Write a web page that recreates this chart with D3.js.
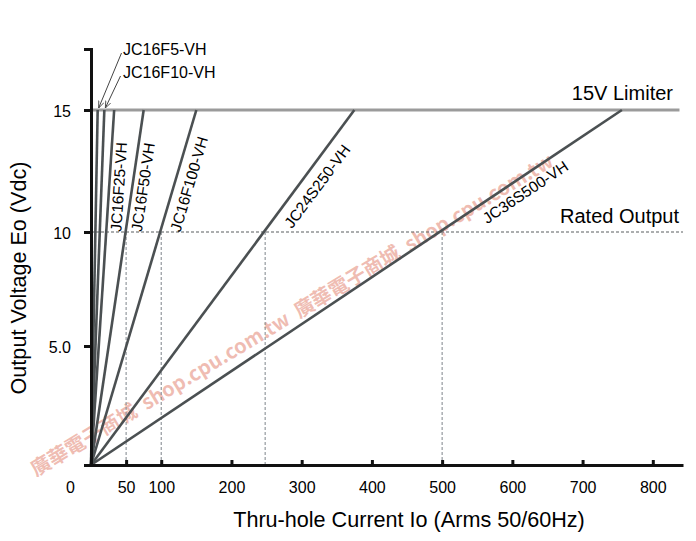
<!DOCTYPE html>
<html>
<head>
<meta charset="utf-8">
<script src="https://cdn.jsdelivr.net/npm/d3@7"></script>
<style>
  body { margin: 0; background: #fff; }
  svg { font-family: "Liberation Sans", Arial, sans-serif; }
</style>
</head>
<body>
<div id="chart"></div>
<script>
// model names, rated current at 10V, current where each curve meets the 15V limiter
const models = ["JC16F5-VH", "JC16F10-VH", "JC16F25-VH", "JC16F50-VH", "JC16F100-VH", "JC24S250-VH", "JC36S500-VH"];
const ratedCurrent = [5, 10, 25, 50, 100, 250, 500];
const currentAt15V = [9.5, 19, 33, 75, 150, 375, 756];
const dropCurrents = [50, 100, 248, 500];
const xTicks = [50, 100, 200, 300, 400, 500, 600, 700, 800];
const yTicks = [5, 10, 15];
const yTickLabels = ["5.0", "10", "15"];
const limiterV = 15;
const ratedV = 10;
const watermark = "廣華電子商城  shop.cpu.com.tw  廣華電子商城  shop.cpu.com.tw";

// label offsets along / across each curve (layout only)
const labelOffsets = [null, null, [1, 15], [2, 16], [5, 19.5], [19, 21], [44, 20]];

const width = 696, height = 541;

const svg = d3.select("#chart")
    .append("svg")
    .attr("width", width)
    .attr("height", height);

const x = d3.scaleLinear()
    .domain([0, 843])
    .range([91, 683]);

const y = d3.scaleLinear()
    .domain([0, 5, 10, 15, 17.5])
    .range([465, 346, 232, 110, 49]);

// watermark behind everything
svg.append("text")
    .attr("transform", "translate(36,477) rotate(-31)")
    .attr("font-family", "'Noto Sans CJK TC', 'Liberation Sans', sans-serif")
    .attr("font-weight", "bold")
    .style("font-size", "20px")
    .attr("fill", "#e07a66")
    .attr("fill-opacity", 0.5)
    .style("white-space", "pre")
    .text(watermark);

// rated output dashed line
svg.append("line")
    .attr("x1", x(0)).attr("x2", x(843))
    .attr("y1", y(ratedV)).attr("y2", y(ratedV))
    .attr("stroke", "#5a5e60")
    .attr("stroke-width", 1.2)
    .attr("stroke-dasharray", "3,2");

// vertical drop lines
svg.selectAll(".drop")
    .data(dropCurrents)
    .enter()
    .append("line")
    .attr("class", "drop")
    .attr("x1", d => x(d)).attr("x2", d => x(d))
    .attr("y1", y(0)).attr("y2", y(ratedV))
    .attr("stroke", "#8a9096")
    .attr("stroke-width", 1.1)
    .attr("stroke-dasharray", "3,2");

// 15V limiter
svg.append("line")
    .attr("x1", x(0)).attr("x2", x(838))
    .attr("y1", y(limiterV)).attr("y2", y(limiterV))
    .attr("stroke", "#9b9b9b")
    .attr("stroke-width", 3);

// model curves
svg.selectAll(".curve")
    .data(currentAt15V)
    .enter()
    .append("line")
    .attr("class", "curve")
    .attr("x1", x(0)).attr("y1", y(0))
    .attr("x2", d => x(d)).attr("y2", y(limiterV))
    .attr("stroke", "#4b5052")
    .attr("stroke-width", 2.6);

// axes
const xAxis = svg.append("g")
    .attr("transform", `translate(0,${y(0)})`)
    .call(d3.axisBottom(x).tickValues(xTicks).tickSizeInner(-5).tickSizeOuter(0).tickPadding(17));

const yAxis = svg.append("g")
    .attr("transform", `translate(${x(0)},0)`)
    .call(d3.axisLeft(y).tickValues(yTicks).tickSize(7).tickPadding(13)
        .tickFormat((d, i) => yTickLabels[i]));

[xAxis, yAxis].forEach(g => {
    g.select(".domain").attr("stroke", "#111").attr("stroke-width", 3);
    g.selectAll(".tick line").attr("stroke", "#111").attr("stroke-width", 3);
    g.selectAll(".tick text")
        .attr("fill", "#000")
        .style("font-size", "16px")
        .attr("font-family", "'Liberation Sans', Arial, sans-serif");
});
yAxis.selectAll(".tick text").attr("dy", "0.4em");

svg.append("text")
    .attr("x", 70.5)
    .attr("y", y(0) + 28)
    .attr("text-anchor", "middle")
    .style("font-size", "16px")
    .text("0");

// axis titles
svg.append("text")
    .attr("x", 409)
    .attr("y", 527)
    .attr("text-anchor", "middle")
    .style("font-size", "21.6px")
    .text("Thru-hole Current Io (Arms 50/60Hz)");

svg.append("text")
    .attr("transform", "translate(26,278) rotate(-90)")
    .attr("text-anchor", "middle")
    .style("font-size", "21.6px")
    .text("Output Voltage Eo (Vdc)");

// reference line labels
svg.append("text")
    .attr("x", 673)
    .attr("y", y(limiterV) - 10)
    .attr("text-anchor", "end")
    .style("font-size", "20px")
    .text("15V Limiter");

svg.append("text")
    .attr("x", 679)
    .attr("y", y(ratedV) - 9)
    .attr("text-anchor", "end")
    .style("font-size", "20px")
    .text("Rated Output");

// rotated labels along curves
models.forEach((name, i) => {
    const off = labelOffsets[i];
    if (!off) return;
    const x0 = x(0), y0 = y(0);
    const x1 = x(currentAt15V[i]), y1 = y(limiterV);
    const t = (y0 - y(ratedV)) / (y0 - y1);
    const px = x0 + (x1 - x0) * t;
    const py = y(ratedV);
    const angle = Math.atan2(y0 - y1, x1 - x0) * 180 / Math.PI;
    svg.append("text")
        .attr("transform", `translate(${px},${py}) rotate(${-angle})`)
        .attr("x", off[0])
        .attr("y", off[1])
        .style("font-size", "15.5px")
        .text(name);
});

// leader labels for the two smallest models
svg.append("defs").append("marker")
    .attr("id", "arrow")
    .attr("viewBox", "0 0 10 10")
    .attr("refX", 10).attr("refY", 5)
    .attr("markerWidth", 7).attr("markerHeight", 7)
    .attr("orient", "auto")
    .append("path")
    .attr("d", "M0,1 L10,5 L0,9")
    .attr("fill", "none")
    .attr("stroke", "#444")
    .attr("stroke-width", 1.2);

const leaders = [[123, 55, 121.5, 53], [123, 78, 120.5, 76]];
[0, 1].forEach(i => {
    const [tx, ty, sx, sy] = leaders[i];
    svg.append("text")
        .attr("x", tx)
        .attr("y", ty)
        .style("font-size", "16px")
        .text(models[i]);
    svg.append("line")
        .attr("x1", sx).attr("y1", sy)
        .attr("x2", x(currentAt15V[i]) + 1).attr("y2", y(limiterV) - 2)
        .attr("stroke", "#444")
        .attr("stroke-width", 1)
        .attr("marker-end", "url(#arrow)");
});
</script>
</body>
</html>
